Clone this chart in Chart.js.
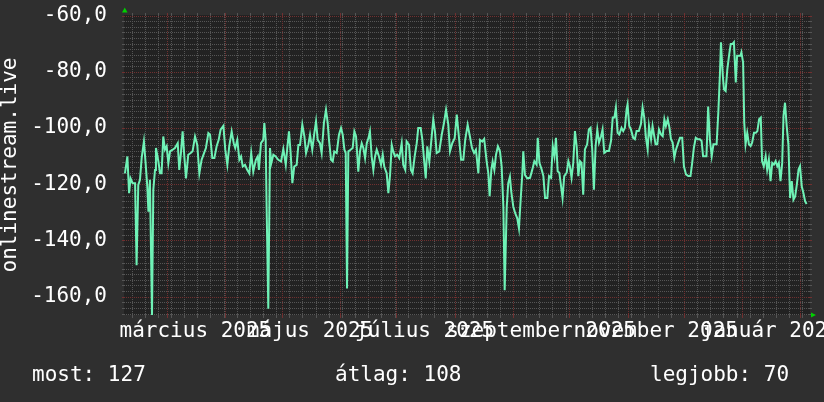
<!DOCTYPE html>
<html><head><meta charset="utf-8">
<script src="https://cdn.jsdelivr.net/npm/chart.js@4"></script>
<style>
html,body{margin:0;padding:0;background:#2f2f2f;}
#wrap{position:relative;width:824px;height:402px;overflow:hidden;background:#2f2f2f;}
canvas{position:absolute;left:0;top:0;}
.stat{position:absolute;top:364px;font-family:"DejaVu Sans Mono";font-size:21px;line-height:21px;color:#ffffff;white-space:pre;}
</style></head><body>
<div id="wrap"><canvas id="c" width="824" height="402"></canvas>
<div class="stat" id="s0" style="left:32px"></div>
<div class="stat" id="s1" style="left:335px"></div>
<div class="stat" id="s2" style="left:650px"></div>
</div>
<script>
// day index 0 = 2025-02-06
const days = [0.5,1.8,2.7,3.5,4.6,5.9,6.7,7.6,8.5,9.4,10.6,11.5,12.4,13,13.8,14.9,15.6,16.5,17,18.3,19.2,20,20.9,21.8,22.7,23.6,24.5,25.9,27.1,28.6,29.4,30.3,31.2,32.1,33,34.2,35.5,36.5,37.8,39,40.1,41.3,42.6,43.6,44.9,45.8,47,48.1,49.3,50.4,51.4,52.9,53.9,55,56,57.3,58.4,59.2,60.3,61.4,62.3,63.2,64.4,65.6,66.7,67.7,68.8,70.2,71.2,
71.8,72.9,74.1,74.7,75.4,75.9,76.8,77.7,78.4,79.5,80.7,82.1,83.6,84.8,86.1,86.9,87.8,88.7,89.6,90.6,91.9,92.8,93.7,94.9,96,96.9,98.1,99,100.2,101.3,102.2,103.1,104.3,105.2,106.4,107.5,108.4,109.1,110.2,111.1,111.9,113.2,114.4,115.5,116.4,117.3,118,118.7,119.4,120.6,121.7,122.6,123.5,124.7,125.6,126.5,127.4,128.3,129.2,130.1,130.9,131.8,132.7,133.6,134.5,135.7,136.8,137.7,138.5,139.8,140.7,141.6,142.5,
143.3,144.2,145.4,146.5,147.8,148.6,149.7,150.4,151.7,152.7,153.6,154.7,155.8,156.6,157.9,158.8,159.7,160.6,161.4,162.5,163.6,164.6,165.5,166.4,167.8,169.1,170.3,171.4,172.6,173.5,174.7,176,177.1,178.3,179.4,180.6,181.6,182.9,184.1,185.2,186.3,187.3,188.6,189.5,190.7,191.7,193,193.9,194.6,195.5,196.2,197.1,198,199,200.1,201,201.9,202.6,203.7,204.5,205.4,206.1,207.2,208.2,209.3,210.2,211.1,212,212.5,213.4,214.6,
216.1,217.3,218.4,219.6,220.2,221.1,222.3,223.2,224.1,225.3,226.2,227.3,228.2,229.1,229.9,230.8,231.7,232.6,233.4,234.3,235.6,236.5,237.3,238.2,239.1,240,240.9,241.8,242.7,243.5,244.4,245.3,246.5,247.4,248.3,249.2,250.1,251,251.9,252.8,253.9,254.7,255.6,256.8,258.1,259.2,260.1,261,261.8,262.7,263.6,264.8,265.7,266.6,267.5,268,268.9,269.8,271,271.9,272.8,274,275.1,276,276.9,277.8,278.7,279.4,280.5,281.3,282.2,282.9,283.8,284.7,285.8,
286.7,287.6,288.4,289.4,290.3,291.1,292,292.9,293.8,295,295.9,297.1,298,299.1,300.3,301.5,302.4,303.3,304.3,305.3,306.5,307.4,308.2,309.1,310,310.9,311.8,312.8,313.7,314.5,315.4,316.3,317.2,317.7,318.7,319.3,320.2,321.1,322,322.9,323.9,324.6,325.6,326.3,327.2,328.1,328.6,329.5,330.1,330.8,331.7,332.6,333.5,334.3,335.3,336.3,337.1,338,338.9,339.6,340.5,341.5,342.3,343.2,344.1,345,345.9,346.8,347.7,348.5,349.4,350.3,351,351.8,352.7,353.6,354.5,355.4,356.3,357.2,358.1,359,359.8,360.7,361.6,362.5,363.3];

const values = [-116.1,-110.1,-123.2,-117.9,-119.6,-119.6,-148.8,-120.2,-118.4,-110.7,-104.8,-112.5,-120.8,-129.8,-118.4,-166.5,-122,-114.9,-107.1,-111.9,-116.1,-116.1,-103,-107.7,-106.5,-112.5,-108.3,-107.7,-107.1,-105.4,-114.9,-108.9,-101.2,-110.1,-117.9,-109.5,-108.9,-108.3,-103,-106,-116.1,-111.3,-108.9,-107.1,-101.8,-102.4,-110.7,-110.7,-106.5,-104.2,-100.6,-99.2,-107.7,-113.1,-106.5,-101.2,-105.4,-107.1,-104.2,-111.3,-110.1,-113.7,-113.1,-114.9,-116.1,-108.9,-115.5,-111.3,-110.1,
-114.9,-105.4,-104.2,-98.2,-104.2,-128,-164.3,-107.1,-112.5,-109.5,-110.1,-111.3,-111.9,-107.5,-113.1,-107.1,-101.2,-108.9,-119.6,-113.7,-113.1,-106,-106,-98.8,-103,-108.9,-106,-102.4,-107.7,-101.8,-97.6,-104.2,-105.4,-108.9,-98.2,-93.5,-98.2,-104.2,-111.3,-111.9,-108.3,-108.9,-102.4,-100,-102.4,-107.7,-108.9,-157.1,-108.3,-107.7,-107.1,-101.2,-103,-115.5,-108.3,-105.4,-107.1,-110.7,-105.4,-103.6,-101.2,-110.1,-114.9,-110.1,-107.7,-110.1,-113.1,-109.5,-113.7,-116.1,-123.2,-116.7,-106,
-108.3,-110.1,-109.5,-110.7,-105.4,-113.1,-114.9,-104.8,-106,-114.9,-116.1,-110.1,-105.4,-100,-100,-104.2,-111.3,-117.9,-106.5,-111.9,-104.2,-97,-101.2,-108.9,-108.3,-102.4,-98.2,-93.5,-98.8,-108.3,-105.4,-103.6,-95.2,-103.6,-111.3,-111.3,-104.2,-98.8,-103,-107.1,-108.9,-107.7,-116.1,-104.2,-104.8,-103.9,-111.9,-116.1,-124.2,-114.9,-111.9,-114.9,-109.5,-106.5,-108.3,-113.7,-128,-157.7,-128,-119.6,-117.3,-122.6,-128,-130.3,-132.1,-135.7,-125.6,-116.1,-108.3,-116.7,-117.9,
-117.7,-114.8,-111.8,-113,-103.5,-112.4,-114.8,-117.1,-124.9,-124.9,-117.1,-117.7,-106.4,-110,-103.5,-115.4,-115.9,-120.7,-124.9,-117.1,-115.9,-111.8,-113.6,-117.7,-112.4,-101.1,-106.4,-117.1,-111.8,-112.4,-123.7,-107.6,-105.8,-100.5,-99.9,-107.6,-121.9,-106.4,-100.5,-105.2,-102.9,-100.5,-108.8,-108.2,-108.2,-104.6,-96.3,-96.3,-92.7,-101.7,-102.3,-99.9,-101.1,-99.9,-93.3,-91.6,-99.3,-100.5,-103.5,-104,-101.1,-101.1,-98.7,-92.7,-96.3,-103.5,-107.6,-99.3,-104,-99.3,-102.9,-105.8,-105.8,-100.5,-102.3,
-102.9,-96.9,-99.3,-96.9,-99.9,-104,-105.2,-110.6,-107.6,-105.2,-103.5,-103.5,-113.6,-116.5,-117.1,-117.1,-112.4,-107,-103.5,-104,-104,-104.6,-110,-110,-110,-92.4,-104,-110,-105.8,-105.8,-105.8,-94.5,-80.2,-69.5,-81.4,-86.2,-86.8,-79.1,-74.3,-70.1,-70.1,-69.5,-83.8,-74.3,-74.3,-74.3,-73.1,-76.7,-98.1,-105.8,-101.7,-105.8,-106.4,-105.2,-101.7,-101.7,-101.1,-96.9,-96.3,-111.8,-113.6,-110,-114.8,-111.2,-118.9,-112.4,-113,-111.8,-113.6,-112.4,-118.9,-112.4,-95.7,-91,-99.3,-105.8,-124.9,-118.9,-125.5,-124.3,-120.1,-114.8,-113.6,-120.7,-123.1,-126.1,-127];

const monthStartDays = [23,54,84,115,145,176,207,237,268,298,329,360];
const labelDays = [38,99,160,222,283,344];
const labelTexts = ['március 2025','május 2025','július 2025','szeptember 2025','november 2025','január 2026'];
const yMajorStep = 20;
const yMinorStep = 2;
const yTitle = 'onlinestream.live';
const statTexts = ['most: 127','átlag: 108','legjobb: 70'];

statTexts.forEach((t,i)=>{document.getElementById('s'+i).textContent=t;});

const weekDays = [];
for (let d = 4; d <= 365; d += 7) if (!monthStartDays.includes(d)) weekDays.push(d);
const yMinorValues = [];
for (let v = -166; v <= -60; v += yMinorStep) if (v % yMajorStep !== 0) yMinorValues.push(v);
const yMajorValues = [];
for (let v = -160; v <= -60; v += yMajorStep) yMajorValues.push(v);

const FONT = 'DejaVu Sans Mono';
const MINOR = '#555555';
const MAJOR = '#703030';

const deco = {
  id: 'deco',
  beforeDraw(chart) {
    const {ctx, chartArea: a} = chart;
    ctx.save();
    ctx.fillStyle = '#2f2f2f';
    ctx.fillRect(0, 0, chart.width, chart.height);
    ctx.fillStyle = '#222222';
    ctx.fillRect(a.left, a.top, a.right - a.left, a.bottom - a.top);
    ctx.restore();
  },
  beforeDatasetsDraw(chart) {
    const {ctx, chartArea: a, scales} = chart;
    const xs = scales.x, ys = scales.y;
    ctx.save();
    ctx.lineWidth = 1;
    const vline = (v, color) => {
      const px = Math.round(xs.getPixelForValue(v)) + 0.5;
      ctx.strokeStyle = color;
      ctx.setLineDash([1, 1]);
      ctx.beginPath(); ctx.moveTo(px, a.top); ctx.lineTo(px, a.bottom); ctx.stroke();
      ctx.setLineDash([]);
      ctx.beginPath(); ctx.moveTo(px, a.top - 2); ctx.lineTo(px, a.top + 1);
      ctx.moveTo(px, a.bottom - 1); ctx.lineTo(px, a.bottom + 3); ctx.stroke();
    };
    const hline = (v, color) => {
      const py = Math.round(ys.getPixelForValue(v)) + 0.5;
      ctx.strokeStyle = color;
      ctx.setLineDash([1, 1]);
      ctx.beginPath(); ctx.moveTo(a.left, py); ctx.lineTo(a.right, py); ctx.stroke();
      ctx.setLineDash([]);
      ctx.beginPath(); ctx.moveTo(a.left - 2, py); ctx.lineTo(a.left + 1, py);
      ctx.moveTo(a.right - 1, py); ctx.lineTo(a.right + 2, py); ctx.stroke();
    };
    yMinorValues.forEach(v => hline(v, MINOR));
    weekDays.forEach(v => vline(v, MINOR));
    yMajorValues.forEach(v => hline(v, MAJOR));
    monthStartDays.forEach(v => vline(v, MAJOR));
    ctx.restore();
  },
  afterDraw(chart) {
    const {ctx, chartArea: a} = chart;
    ctx.save();
    ctx.fillStyle = '#00d000';
    ctx.beginPath();
    ctx.moveTo(a.left - 2, a.top - 2.5);
    ctx.lineTo(a.left + 3.5, a.top - 2.5);
    ctx.lineTo(a.left + 0.75, a.top - 7.5);
    ctx.closePath(); ctx.fill();
    ctx.beginPath();
    ctx.moveTo(a.right + 1, a.bottom - 2.5);
    ctx.lineTo(a.right + 1, a.bottom + 2.5);
    ctx.lineTo(a.right + 6, a.bottom);
    ctx.closePath(); ctx.fill();
    ctx.restore();
  }
};

new Chart(document.getElementById('c'), {
  type: 'line',
  data: {
    datasets: [{
      data: days.map((d, i) => ({x: d, y: values[i]})),
      borderColor: '#6ff2b6',
      borderWidth: 2,
      pointRadius: 0,
      tension: 0,
      fill: false
    }]
  },
  options: {
    responsive: false,
    animation: false,
    devicePixelRatio: 1,
    layout: {padding: {left: 0, top: 15, right: 14, bottom: 0}},
    plugins: {legend: {display: false}, tooltip: {enabled: false}},
    scales: {
      x: {
        type: 'linear', min: 0, max: 365.1,
        afterBuildTicks(scale) {
          scale.ticks = labelDays.map(v => ({value: v}));
        },
        afterFit(scale) { scale.height = 87; scale.paddingLeft = 0; scale.paddingRight = 0; },
        grid: {display: false, drawTicks: false},
        border: {display: false},
        ticks: {
          autoSkip: false, maxRotation: 0, minRotation: 0, padding: 4,
          color: '#ffffff', font: {family: FONT, size: 21},
          callback: v => { const i = labelDays.indexOf(v); return i >= 0 ? labelTexts[i] : ''; }
        }
      },
      y: {
        type: 'linear', min: -166.5, max: -59.8,
        afterBuildTicks(scale) {
          scale.ticks = yMajorValues.map(v => ({value: v}));
        },
        afterFit(scale) { scale.width = 124; scale.paddingTop = 0; scale.paddingBottom = 0; },
        grid: {display: false, drawTicks: false},
        border: {display: false},
        title: {
          display: true, text: yTitle, color: '#ffffff',
          font: {family: FONT, size: 21, lineHeight: 1}, padding: {top: 0, bottom: 0}
        },
        ticks: {
          autoSkip: false, padding: 17, color: '#ffffff',
          font: {family: FONT, size: 21},
          callback: v => v.toFixed(1).replace('.', ',')
        }
      }
    }
  },
  plugins: [deco]
});
</script>
</body></html>
